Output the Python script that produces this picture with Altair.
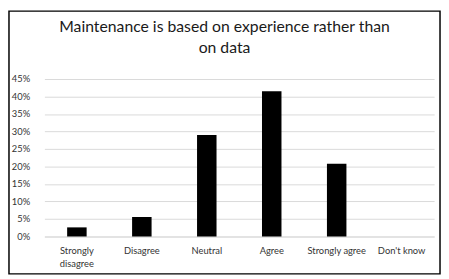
import altair as alt
import pandas as pd

categories = ["Strongly disagree", "Disagree", "Neutral", "Agree", "Strongly agree", "Don't know"]
values = [0.026, 0.056, 0.29, 0.415, 0.208, 0.0]
y_ticks = [0, 0.05, 0.10, 0.15, 0.20, 0.25, 0.30, 0.35, 0.40, 0.45]
title_lines = ["Maintenance is based on experience rather than", "on data"]

df = pd.DataFrame({"category": categories, "share": values})

FONT = "Lato"

bars = alt.Chart(df).mark_bar(color="black").encode(
    x=alt.X(
        "category:N",
        sort=categories,
        scale=alt.Scale(paddingInner=0.7, paddingOuter=0.35),
        axis=alt.Axis(
            title=None,
            labelAngle=0,
            labelFont=FONT,
            labelFontSize=9.5,
            labelColor="#333333",
            labelPadding=9,
            labelLineHeight=14,
            labelExpr="datum.value == 'Strongly disagree' ? ['Strongly', 'disagree'] : datum.value",
            ticks=False,
            domain=True,
            domainColor="#d9d9d9",
            labelLimit=200,
        ),
    ),
    y=alt.Y(
        "share:Q",
        scale=alt.Scale(domain=[0, 0.45], nice=False),
        axis=alt.Axis(
            title=None,
            values=y_ticks,
            format=".0%",
            labelFont=FONT,
            labelFontSize=9.5,
            labelColor="#333333",
            labelPadding=15,
            ticks=False,
            domain=False,
            grid=True,
            gridColor="#d9d9d9",
            gridWidth=1,
        ),
    ),
)

frame = alt.Chart(pd.DataFrame({"f": [0]})).mark_rect(
    filled=False, stroke="black", strokeWidth=1.5
).encode(
    x=alt.value(-36), x2=alt.value(402), y=alt.value(-69), y2=alt.value(198)
)

chart = alt.layer(bars, frame).properties(
    width=396,
    height=160,
    title=alt.Title(
        title_lines,
        font=FONT,
        fontSize=16,
        fontWeight="normal",
        color="#1a1a1a",
        anchor="middle",
        frame="bounds",
        offset=-46,
        lineHeight=21,
    ),
).configure_view(stroke=None).properties(padding=0)

chart.save("out.html", embed_options={"renderer": "svg", "actions": False})
